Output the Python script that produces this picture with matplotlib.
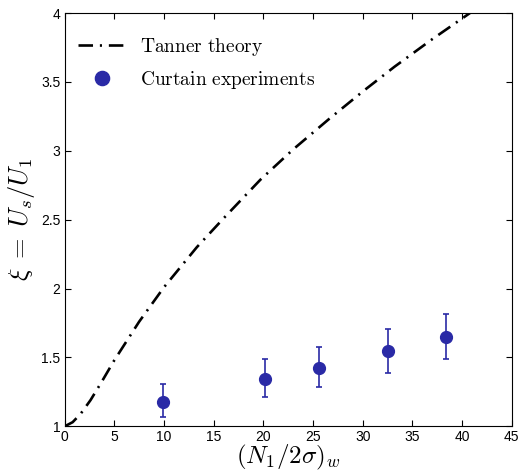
import matplotlib
matplotlib.use("Agg")
import matplotlib.pyplot as plt

plt.rcParams["mathtext.fontset"] = "cm"
plt.rcParams["font.family"] = ["Liberation Sans", "DejaVu Sans"]

# Tanner theory curve
tanner_x = [0, 0.8, 1.6, 2.6, 3.7, 5, 7.5, 10, 13.3, 16, 19.7, 23, 26.6, 30, 33.2, 37, 41]
tanner_y = [1.0, 1.03, 1.09, 1.19, 1.32, 1.48, 1.76, 2.01, 2.30, 2.51, 2.79, 3.01, 3.23, 3.43, 3.61, 3.81, 4.01]

# curtain experiments with error bars
exp_x = [9.9, 20.2, 25.6, 32.5, 38.4]
exp_y = [1.18, 1.34, 1.42, 1.545, 1.648]
exp_lo = [1.066, 1.21, 1.284, 1.386, 1.488]
exp_hi = [1.306, 1.488, 1.575, 1.706, 1.816]

blue = "#2a2aa6"

fig = plt.figure(figsize=(5.23, 4.75), dpi=100)
ax = fig.add_axes([0.1237, 0.1025, 0.8547, 0.8701])

ax.plot(tanner_x, tanner_y, color="k", lw=1.9, dashes=[5.5, 2.6, 0.8, 2.6],
        label=r"$\mathrm{Tanner\ theory}$")

yerr = [[y - lo for y, lo in zip(exp_y, exp_lo)],
        [hi - y for y, hi in zip(exp_y, exp_hi)]]
ax.errorbar(exp_x, exp_y, yerr=yerr, fmt="none", ecolor=blue, elinewidth=1.2,
            capsize=2.5, capthick=1.2)
ax.plot(exp_x, exp_y, "o", color=blue, ms=8.5, ls="none",
        label=r"$\mathrm{Curtain\ experiments}$")

ax.set_xlim(0, 45)
ax.set_ylim(1, 4)
ax.set_xticks(range(0, 46, 5))
ax.set_yticks([1, 1.5, 2, 2.5, 3, 3.5, 4])
ax.set_yticklabels(["1", "1.5", "2", "2.5", "3", "3.5", "4"])
ax.tick_params(direction="in", top=True, right=True, length=4, width=0.8,
               labelsize=10, pad=3)
for s in ax.spines.values():
    s.set_linewidth(0.8)

ax.set_xlabel(r"$(N_1/2\sigma)_w$", fontsize=18, labelpad=-1)
ax.set_ylabel(r"$\xi\;=\;U_s/U_1$", fontsize=19, labelpad=3)

ax.legend(loc="upper left", bbox_to_anchor=(0, 0.977), frameon=False,
          fontsize=14, handlelength=2.4, markerscale=1.2, borderaxespad=0.3,
          labelspacing=0.55, handletextpad=0.75)

fig.savefig("out.png", dpi=100)
